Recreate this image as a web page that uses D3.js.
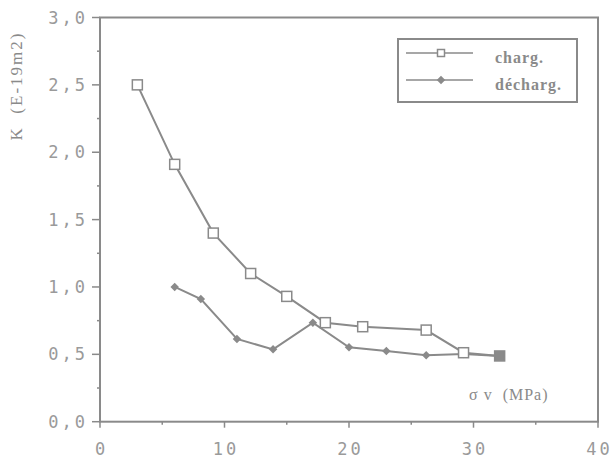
<!doctype html>
<html lang="fr">
<head>
<meta charset="utf-8">
<title>K vs sigma v</title>
<style>
  body { margin: 0; background: #fff; }
  svg { display: block; }
  .tick-label { font-family: "DejaVu Sans Mono", monospace; font-size: 17px; fill: #9a9a9a; letter-spacing: 3px; }
  .serif { font-family: "Liberation Serif", "Times New Roman", serif; fill: #8a8a8a; white-space: pre; }
</style>
</head>
<body>
<div id="chart"></div>
<script src="https://cdn.jsdelivr.net/npm/d3@7"></script>
<script>
// data
var chargX = [3, 6, 9.1, 12.1, 15, 18.1, 21.1, 26.2, 29.2, 32.1];
var chargK = [2.50, 1.91, 1.40, 1.10, 0.93, 0.735, 0.705, 0.68, 0.512, 0.488];
var dechargX = [6, 8.1, 11, 13.9, 17.1, 20, 23, 26.2, 29.2, 32.1];
var dechargK = [1.00, 0.91, 0.614, 0.537, 0.735, 0.552, 0.525, 0.493, 0.503, 0.488];
var xTicks = [0, 10, 20, 30, 40];
var yTicks = [0, 0.5, 1, 1.5, 2, 2.5, 3];

var width = 613, height = 460;
var grey = "#8a8a8a";

var x = d3.scaleLinear().domain([0, 40]).range([100, 598]);
var y = d3.scaleLinear().domain([0, 3]).range([421.7, 17.5]);

var svg = d3.select("#chart").append("svg")
    .attr("width", width)
    .attr("height", height);

// frame
svg.append("rect")
    .attr("x", x(0)).attr("y", y(3))
    .attr("width", x(40) - x(0)).attr("height", y(0) - y(3))
    .attr("fill", "none").attr("stroke", grey).attr("stroke-width", 2);

// y axis ticks
var yMinor = d3.range(0, 3.01, 0.25);
svg.selectAll(".ytick").data(yMinor).enter().append("line")
    .attr("x1", function(d) { return x(0) - (d % 0.5 === 0 ? 8 : 3); })
    .attr("x2", x(0))
    .attr("y1", function(d) { return y(d); })
    .attr("y2", function(d) { return y(d); })
    .attr("stroke", grey).attr("stroke-width", 1.5);

svg.selectAll(".ylab").data(yTicks).enter().append("text")
    .attr("class", "tick-label")
    .attr("x", 88)
    .attr("y", function(d) { return y(d) + 6; })
    .attr("text-anchor", "end")
    .text(function(d) { return d3.format(".1f")(d).replace(".", ","); });

// x axis ticks
var xMinor = d3.range(0, 40.1, 5);
svg.selectAll(".xtick").data(xMinor).enter().append("line")
    .attr("x1", function(d) { return x(d); })
    .attr("x2", function(d) { return x(d); })
    .attr("y1", y(0))
    .attr("y2", function(d) { return y(0) + (d % 10 === 0 ? 6 : 3); })
    .attr("stroke", grey).attr("stroke-width", 1.5);

svg.selectAll(".xlab").data(xTicks).enter().append("text")
    .attr("class", "tick-label")
    .attr("x", function(d) { return x(d) + 1.5; })
    .attr("y", 455)
    .attr("text-anchor", "middle")
    .text(function(d) { return d; });

// axis titles
svg.append("text")
    .attr("class", "serif")
    .attr("transform", "translate(22,86) rotate(-90)")
    .attr("text-anchor", "middle")
    .style("font-size", "17px")
    .style("letter-spacing", "2px")
    .text("K\u00a0\u00a0(E-19m2)");

svg.append("text")
    .attr("class", "serif")
    .attr("x", 469).attr("y", 400)
    .style("font-size", "16px")
    .style("letter-spacing", "1px")
    .text("σ\u00a0v\u00a0\u00a0(MPa)");

// lines
var line = d3.line()
    .x(function(d) { return x(d[0]); })
    .y(function(d) { return y(d[1]); });

var charg = d3.zip(chargX, chargK);
var decharg = d3.zip(dechargX, dechargK);

svg.append("path").datum(decharg)
    .attr("d", line).attr("fill", "none")
    .attr("stroke", grey).attr("stroke-width", 2);
svg.append("path").datum(charg)
    .attr("d", line).attr("fill", "none")
    .attr("stroke", grey).attr("stroke-width", 2);

var dot = d3.symbol().type(d3.symbolSquare).size(36);

svg.selectAll(".dec").data(decharg).enter().append("path")
    .attr("d", dot)
    .attr("transform", function(d) { return "translate(" + x(d[0]) + "," + y(d[1]) + ") rotate(45)"; })
    .attr("fill", grey);

svg.selectAll(".chg").data(charg).enter().append("rect")
    .attr("x", function(d) { return x(d[0]) - 5; })
    .attr("y", function(d) { return y(d[1]) - 5; })
    .attr("width", 10).attr("height", 10)
    .attr("fill", function(d, i) { return i === charg.length - 1 ? grey : "#fff"; })
    .attr("stroke", grey).attr("stroke-width", 1.5);

// legend
var lg = svg.append("g");
lg.append("rect")
    .attr("x", 398).attr("y", 39).attr("width", 179).attr("height", 63)
    .attr("fill", "#fff").attr("stroke", grey).attr("stroke-width", 2);

var legendItems = ["charg.", "décharg."];
var legendY = [53, 80];

legendItems.forEach(function(name, i) {
  lg.append("line")
      .attr("x1", 406).attr("x2", 473)
      .attr("y1", legendY[i]).attr("y2", legendY[i])
      .attr("stroke", grey).attr("stroke-width", 1.5);
  if (i === 0) {
    lg.append("rect")
        .attr("x", 437.5).attr("y", legendY[i] - 3.5)
        .attr("width", 7).attr("height", 7)
        .attr("fill", "#fff").attr("stroke", grey).attr("stroke-width", 1.5);
  } else {
    lg.append("path")
        .attr("d", dot)
        .attr("transform", "translate(441," + legendY[i] + ") rotate(45)")
        .attr("fill", grey);
  }
  lg.append("text")
      .attr("class", "serif")
      .attr("x", 495).attr("y", legendY[i] + 10)
      .style("font-size", "16px")
      .style("font-weight", "bold")
      .style("letter-spacing", "1px")
      .text(name);
});
</script>
</body>
</html>
